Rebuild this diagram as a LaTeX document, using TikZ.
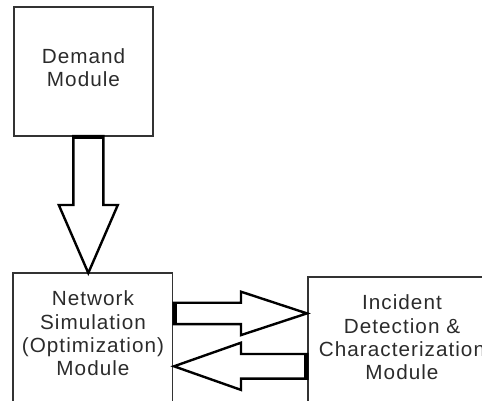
\documentclass[tikz,border=0pt]{standalone}
\usepackage{fontspec}
\setmainfont{Liberation Sans}[FakeStretch=1.01,LetterSpace=5]
\usetikzlibrary{calc}
\definecolor{linegray}{HTML}{333333}
\definecolor{txtgray}{HTML}{2B2B2B}
\tikzset{
  box/.style={draw=linegray, line width=1.3pt, inner sep=0pt, outer sep=0pt},
  txt/.style={font=\fontsize{20.5}{23.2}\selectfont, align=center, text=txtgray, inner sep=0pt},
  blockarrow/.style={draw=black, line width=2.4pt, line join=miter, fill=white},
  arrowbase/.style={draw=black, line width=4pt}
}
\begin{document}
\begin{tikzpicture}[x=1pt,y=-1pt]
\useasboundingbox (0,0) rectangle (482,401);
% boxes
\node[box, minimum width=139pt, minimum height=129pt] (demand) at (83.5,71.5) {};
\node[box, minimum width=159.5pt, minimum height=157pt] (network) at (92.75,351.5) {};
\node[box, minimum width=192pt, minimum height=153pt] (incident) at (404,353.5) {};
% texts
\node[txt] (demandtxt) at (83.5,67.5) {Demand\\Module};
\node[txt] (nettxt) at (93,333.3) {Network\\Simulation\\(Optimization)\\Module};
\node[txt] (inctxt) at (402,337.3) {Incident\\Detection \&\\Characterization\\Module};
% down arrow
\coordinate (dbase) at ($(demand.south)+(4.8,0)$);
\coordinate (dtip) at (dbase |- network.north);
\draw[blockarrow] ($(dbase)+(-15,0)$) -- ($(dbase)+(-15,69)$) -- ($(dbase)+(-29.5,69)$) -- (dtip)
  -- ($(dbase)+(29.5,69)$) -- ($(dbase)+(15,69)$) -- ($(dbase)+(15,0)$) -- cycle;
\draw[arrowbase] ($(dbase)+(-15,1.5)$) -- ($(dbase)+(15,1.5)$);
% right arrow
\coordinate (rbase) at ($(network.north east)+(1,40.4)$);
\coordinate (rtip) at ($(incident.west |- rbase)+(-1,0)$);
\draw[blockarrow] ($(rbase)+(0,-10.7)$) -- ($(rbase)+(67.5,-10.7)$) -- ($(rbase)+(67.5,-21.7)$) -- (rtip)
  -- ($(rbase)+(67.5,21.7)$) -- ($(rbase)+(67.5,10.7)$) -- ($(rbase)+(0,10.7)$) -- cycle;
\draw[arrowbase] ($(rbase)+(1.8,-10.7)$) -- ($(rbase)+(1.8,10.7)$);
% left arrow
\coordinate (lbase) at ($(incident.north west)+(-0.5,89.3)$);
\coordinate (ltip) at ($(network.east |- lbase)+(1.5,0)$);
\draw[blockarrow] ($(lbase)+(0,-12.3)$) -- ($(lbase)+(-66.5,-12.3)$) -- ($(lbase)+(-66.5,-23.6)$) -- (ltip)
  -- ($(lbase)+(-66.5,23.6)$) -- ($(lbase)+(-66.5,12.3)$) -- ($(lbase)+(0,12.3)$) -- cycle;
\draw[arrowbase] ($(lbase)+(-1.8,-12.3)$) -- ($(lbase)+(-1.8,12.3)$);
\end{tikzpicture}
\end{document}
